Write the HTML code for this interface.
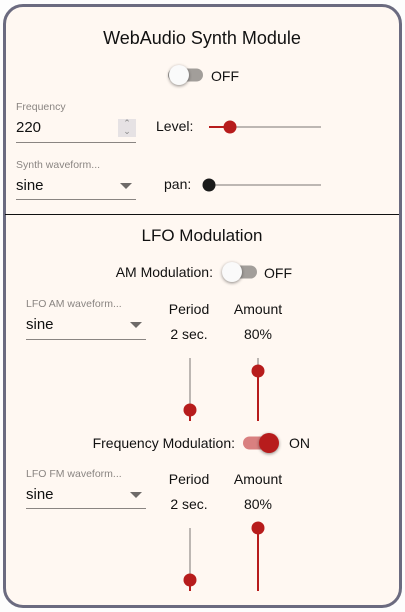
<!DOCTYPE html>
<html><head><meta charset="utf-8"><style>
body{margin:0;width:405px;height:612px;background:#fdfdfd;font-family:"Liberation Sans",sans-serif;color:#111;overflow:hidden}
#card{position:absolute;left:3px;top:4px;width:393px;height:598px;border:3px solid #6b6b80;border-radius:20px;background:#fff8f2}
.a{position:absolute;white-space:nowrap}
.c{transform:translateX(-50%)}
.lbl{font-size:10.5px;color:#8a8582}
.ul{position:absolute;height:1px;background:#8a8582}
.arrow{position:absolute;width:0;height:0;border-left:6px solid transparent;border-right:6px solid transparent;border-top:6px solid #6e6a68}
.tr{position:absolute;background:#bdb7b3}
.red{background:#b71c1c}
.th{position:absolute;width:13px;height:13px;border-radius:50%;background:#b71c1c;transform:translate(-50%,-50%)}
.knob{position:absolute;width:20px;height:20px;border-radius:50%;transform:translate(-50%,-50%);box-shadow:0 1px 3px rgba(0,0,0,.45)}
.track{position:absolute;height:13px;border-radius:7px;transform:translateY(-50%)}
</style></head><body>
<div id="card"></div>
<div class="a c" style="left:202px;top:28px;font-size:18px">WebAudio Synth Module</div>
<div>
<div class="track" style="left:168px;top:75px;width:35px;background:#a29e9a"></div>
<div class="knob" style="left:179px;top:75px;background:#fafafa"></div></div>
<div class="a" style="left:211px;top:68px;font-size:14px">OFF</div>

<div class="a lbl" style="left:16px;top:101px">Frequency</div>
<div class="a" style="left:16px;top:119px;font-size:15px">220</div>
<div class="a" style="left:118px;top:119px;width:18px;height:18px;background:#e6e2e4;color:#888;font-size:9px;line-height:8px;text-align:center">⌃<br>⌄</div>
<div class="ul" style="left:16px;top:142px;width:120px"></div>
<div class="a" style="left:156px;top:118px;font-size:14px">Level:</div>
<div>
<div class="tr" style="left:209px;top:126px;width:112px;height:2px"></div>
<div class="tr red" style="left:209px;top:126px;width:21px;height:2px"></div>
<div class="th" style="left:230px;top:127px"></div></div>

<div class="a lbl" style="left:16px;top:159px">Synth waveform...</div>
<div class="a" style="left:16px;top:177px;font-size:15px">sine</div>
<div class="arrow" style="left:120px;top:183px"></div>
<div class="ul" style="left:16px;top:199px;width:120px"></div>
<div class="a" style="left:164px;top:176px;font-size:14px">pan:</div>
<div>
<div class="tr" style="left:209px;top:184px;width:112px;height:2px"></div>
<div class="th" style="left:209px;top:185px;background:#1a1a1a"></div></div>

<div style="position:absolute;left:5px;top:214px;width:394px;height:1px;background:#111"></div>
<div class="a c" style="left:202px;top:226px;font-size:17px">LFO Modulation</div>

<div class="a" style="right:192px;top:264px;font-size:14px">AM Modulation:</div>
<div>
<div class="track" style="left:223px;top:272px;width:34px;background:#a29e9a"></div>
<div class="knob" style="left:232px;top:272px;background:#fafafa"></div></div>
<div class="a" style="left:264px;top:265px;font-size:14px">OFF</div>
<div class="a lbl" style="left:26px;top:298px">LFO AM waveform...</div>
<div class="a" style="left:26px;top:316px;font-size:15px">sine</div>
<div class="arrow" style="left:130px;top:322px"></div>
<div class="ul" style="left:26px;top:339px;width:120px"></div>
<div class="a c" style="left:189px;top:301px;font-size:14px">Period</div>
<div class="a c" style="left:189px;top:326px;font-size:14px">2 sec.</div>
<div class="a c" style="left:258px;top:301px;font-size:14px">Amount</div>
<div class="a c" style="left:258px;top:326px;font-size:14px">80%</div>
<div>
<div class="tr" style="left:189px;top:358px;width:2px;height:63px"></div>
<div class="tr red" style="left:189px;top:410px;width:2px;height:11px"></div>
<div class="th" style="left:190px;top:410px"></div></div>
<div>
<div class="tr" style="left:257px;top:358px;width:2px;height:63px"></div>
<div class="tr red" style="left:257px;top:371px;width:2px;height:50px"></div>
<div class="th" style="left:258px;top:371px"></div></div>

<div class="a" style="right:170px;top:435px;font-size:14px">Frequency Modulation:</div>
<div>
<div class="track" style="left:243px;top:443px;width:35px;background:#d98080"></div>
<div class="knob" style="left:269px;top:443px;background:#b71c1c"></div></div>
<div class="a" style="left:289px;top:435px;font-size:14px">ON</div>
<div class="a lbl" style="left:26px;top:468px">LFO FM waveform...</div>
<div class="a" style="left:26px;top:486px;font-size:15px">sine</div>
<div class="arrow" style="left:130px;top:492px"></div>
<div class="ul" style="left:26px;top:508px;width:120px"></div>
<div class="a c" style="left:189px;top:471px;font-size:14px">Period</div>
<div class="a c" style="left:189px;top:496px;font-size:14px">2 sec.</div>
<div class="a c" style="left:258px;top:471px;font-size:14px">Amount</div>
<div class="a c" style="left:258px;top:496px;font-size:14px">80%</div>
<div>
<div class="tr" style="left:189px;top:528px;width:2px;height:63px"></div>
<div class="tr red" style="left:189px;top:580px;width:2px;height:11px"></div>
<div class="th" style="left:190px;top:580px"></div></div>
<div>
<div class="tr" style="left:257px;top:528px;width:2px;height:63px"></div>
<div class="tr red" style="left:257px;top:528px;width:2px;height:63px"></div>
<div class="th" style="left:258px;top:528px"></div></div>
</body></html>
